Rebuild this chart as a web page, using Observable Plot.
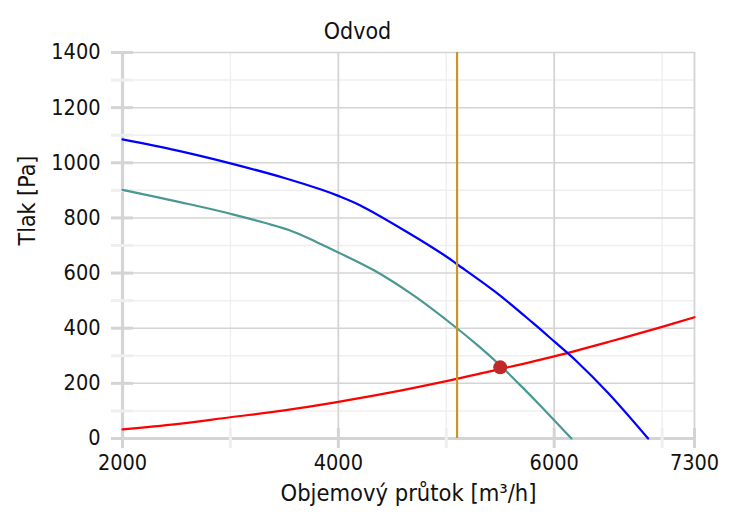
<!DOCTYPE html>
<html>
<head>
<meta charset="utf-8">
<script src="https://cdn.jsdelivr.net/npm/d3@7"></script>
<script src="https://cdn.jsdelivr.net/npm/@observablehq/plot@0.6"></script>
<style>
  body { margin: 0; background: #fff; font-family: "DejaVu Sans Condensed", sans-serif; }
</style>
</head>
<body>
<div id="chart"></div>
<script>
// ---- text ----
const chartTitle = "Odvod";
const xLabel = "Objemový průtok [m³/h]";
const yLabel = "Tlak [Pa]";

// ---- ticks ----
const xMajorTicks = [2000, 4000, 6000, 7300];
const xMinorTicks = [3000, 5000, 7000];
const yMajorTicks = [0, 200, 400, 600, 800, 1000, 1200, 1400];
const yMinorTicks = [100, 300, 500, 700, 900, 1100, 1300];

// ---- series: fan curve (blue) ----
const blueFlow     = [2000, 2500, 3000, 3500, 3840, 4000, 4200, 4640, 5000, 5100, 5470, 5800, 6000, 6200, 6500, 6870];
const bluePressure = [1085, 1045,  998,  945,  903,  880,  846,  748,  660,  632,  527,  420,  352,  283,  165,    0];

// ---- series: fan curve (teal) ----
const tealFlow     = [2000, 2500, 3000, 3570, 3800, 4000, 4330, 4700, 5040, 5300, 5500, 5720, 5870, 6160];
const tealPressure = [ 902,  860,  815,  752,  712,  675,  610,  518,  418,  335,  265,  180,  120,    0];

// ---- series: system curve (red) ----
const redFlow     = [2000, 2500, 3000, 3500, 4000, 4500, 5000, 5500, 6000, 6500, 7000, 7300];
const redPressure = [  33,   52,   77,  102,  133,  168,  208,  252,  298,  350,  405,  440];

// ---- working point & design flow ----
const workFlow = [5500];
const workPressure = [258];
const designFlow = [5100];

const toRows = (xs, ys) => xs.map((q, i) => ({q, p: ys[i]}));
const blue = toRows(blueFlow, bluePressure);
const teal = toRows(tealFlow, tealPressure);
const red = toRows(redFlow, redPressure);
const work = toRows(workFlow, workPressure);

const majorGrid = "#d4d4d4";
const minorGrid = "#efefef";
const fmt = d => String(d);

const chart = Plot.plot({
  width: 736,
  height: 518,
  marginLeft: 122,
  marginRight: 42,
  marginTop: 52,
  marginBottom: 80,
  style: { fontFamily: "DejaVu Sans Condensed", fontSize: "21px", color: "#111", background: "#fff" },
  x: { domain: [2000, 7300] },
  y: { domain: [0, 1400] },
  marks: [
    Plot.ruleY(yMinorTicks, { stroke: minorGrid, strokeWidth: 1.5 }),
    Plot.ruleX(xMinorTicks, { stroke: minorGrid, strokeWidth: 1.5 }),
    Plot.ruleY(yMajorTicks, { stroke: majorGrid, strokeWidth: 1.5 }),
    Plot.ruleX(xMajorTicks, { stroke: majorGrid, strokeWidth: 1.8 }),
    Plot.ruleX([2000], { stroke: majorGrid, strokeWidth: 3.2 }),
    Plot.ruleY([0], { stroke: majorGrid, strokeWidth: 3.2 }),
    Plot.axisY({ ticks: yMinorTicks, tickSize: 22, dx: 11, fill: "none", stroke: minorGrid, strokeWidth: 3, label: null, tickFormat: fmt }),
    Plot.axisY({ ticks: yMajorTicks, tickSize: 22, dx: 11, fill: "none", stroke: majorGrid, strokeWidth: 3, label: null, tickFormat: fmt }),
    Plot.axisY({ ticks: yMajorTicks, tickSize: 0, tickPadding: 22, label: null, tickFormat: fmt, fontSize: 21.5 }),
    Plot.axisX({ ticks: xMinorTicks, tickSize: 20, dy: -10, fill: "none", stroke: minorGrid, strokeWidth: 3, label: null, tickFormat: fmt }),
    Plot.axisX({ ticks: xMajorTicks, tickSize: 20, dy: -10, fill: "none", stroke: majorGrid, strokeWidth: 3, label: null, tickFormat: fmt }),
    Plot.axisX({ ticks: xMajorTicks, tickSize: 0, tickPadding: 16, label: null, tickFormat: fmt, fontSize: 21.5 }),
    Plot.text([chartTitle], { frameAnchor: "top", dx: -51, dy: -30, fontSize: 23 }),
    Plot.text([yLabel], { frameAnchor: "left", rotate: -90, dx: -95, fontSize: 23 }),
    Plot.text([xLabel], { frameAnchor: "bottom", dy: 62, fontSize: 23.5 }),
    Plot.line(red, { x: "q", y: "p", stroke: "#ff0000", strokeWidth: 2.2, curve: "catmull-rom" }),
    Plot.line(teal, { x: "q", y: "p", stroke: "#4a9893", strokeWidth: 2.2, curve: "catmull-rom" }),
    Plot.line(blue, { x: "q", y: "p", stroke: "#0000ff", strokeWidth: 2.2, curve: "catmull-rom" }),
    Plot.ruleX(designFlow, { stroke: "#c8952a", strokeWidth: 2.2 }),
    Plot.dot(work, { x: "q", y: "p", r: 7, fill: "#c0282a", stroke: "none" })
  ]
});
document.getElementById("chart").appendChild(chart);
</script>
</body>
</html>
